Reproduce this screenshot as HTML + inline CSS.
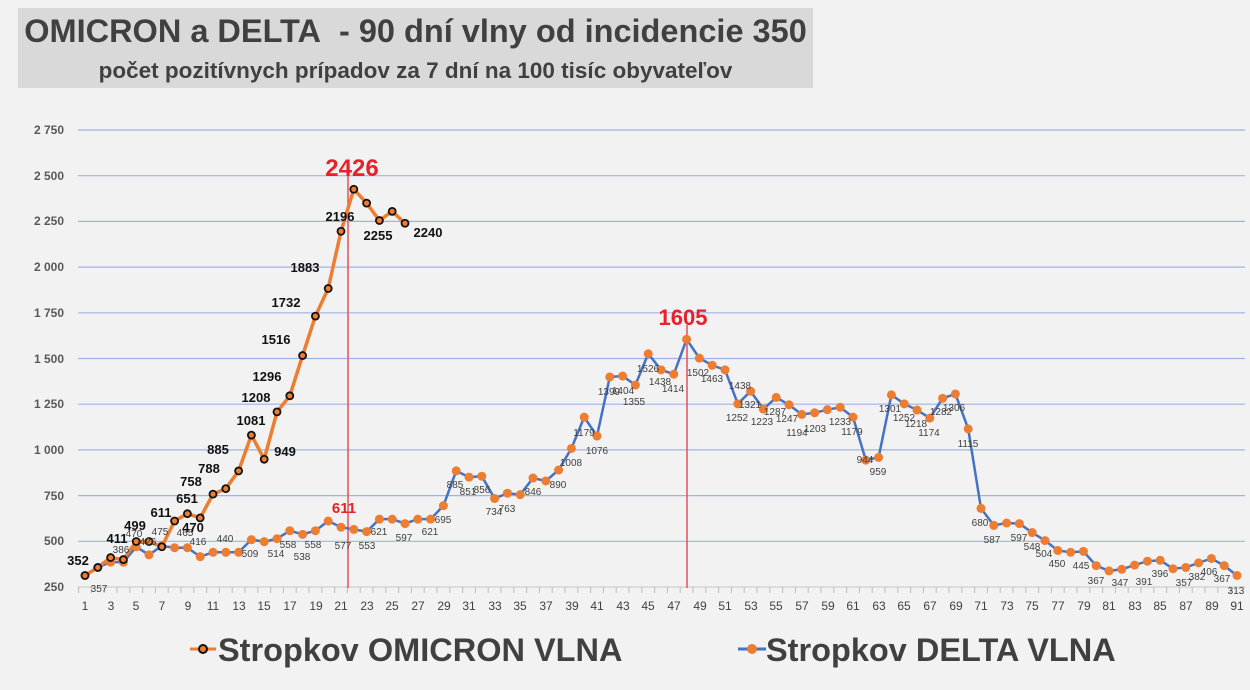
<!DOCTYPE html>
<html><head><meta charset="utf-8"><style>
body{margin:0;width:1250px;height:690px;background:#f2f2f2;overflow:hidden;font-family:"Liberation Sans",sans-serif}
#t{position:absolute;left:18px;top:8px;width:795px;height:80px;background:#d9d9d9}
#t1{position:absolute;left:0;width:795px;top:5px;text-align:center;font-weight:bold;font-size:32.5px;color:#404040;white-space:nowrap}
#t2{position:absolute;left:0;width:795px;top:50px;text-align:center;font-weight:bold;font-size:22.5px;color:#404040;white-space:nowrap}
svg{position:absolute;left:0;top:0}
</style></head><body>
<div id="t"><div id="t1">OMICRON a DELTA&nbsp; - 90 dní vlny od incidencie 350</div><div id="t2">počet pozitívnych prípadov za 7 dní na 100 tisíc obyvateľov</div></div>
<svg width="1250" height="690" id="s" font-family="Liberation Sans, sans-serif">
<g id="grid"></g>
<g font-size="12" fill="#595959" text-anchor="end" font-weight="bold">
<text x="64" y="134">2 750</text><text x="64" y="180">2 500</text><text x="64" y="225">2 250</text><text x="64" y="271">2 000</text><text x="64" y="317">1 750</text><text x="64" y="363">1 500</text><text x="64" y="408">1 250</text><text x="64" y="454">1 000</text><text x="64" y="500">750</text><text x="64" y="545">500</text><text x="64" y="591">250</text>
</g>
<line x1="348" y1="160" x2="348" y2="588" stroke="#e8505b" stroke-width="1.5"/>
<line x1="687" y1="325" x2="687" y2="588" stroke="#e8505b" stroke-width="1.5"/>
<g id="series"></g>
<g font-size="10" fill="#404040" text-anchor="middle">
<text x="99" y="592">357</text><text x="121" y="553">386</text><text x="134" y="537">470</text><text x="148" y="545">426</text><text x="160" y="535">475</text><text x="185" y="536">465</text><text x="198" y="545">416</text><text x="225" y="542">440</text><text x="250" y="557">509</text><text x="276" y="557">514</text><text x="288" y="548">558</text><text x="302" y="560">538</text><text x="313" y="548">558</text><text x="343" y="549">577</text><text x="367" y="549">553</text><text x="379" y="535">621</text><text x="404" y="541">597</text><text x="430" y="535">621</text><text x="443" y="523">695</text><text x="455" y="488">885</text><text x="468" y="495">851</text><text x="482" y="493">856</text><text x="494" y="515">734</text><text x="507" y="512">763</text><text x="533" y="495">846</text><text x="558" y="488">890</text><text x="571" y="466">1008</text><text x="584" y="436">1179</text><text x="597" y="454">1076</text><text x="609" y="395">1399</text><text x="623" y="394">1404</text><text x="634" y="405">1355</text><text x="648" y="372">1526</text><text x="660" y="385">1438</text><text x="673" y="392">1414</text><text x="698" y="376">1502</text><text x="712" y="382">1463</text><text x="740" y="389">1438</text><text x="737" y="421">1252</text><text x="750" y="408">1321</text><text x="762" y="425">1223</text><text x="775" y="415">1287</text><text x="787" y="422">1247</text><text x="797" y="436">1194</text><text x="815" y="432">1203</text><text x="840" y="425">1233</text><text x="852" y="435">1179</text><text x="865" y="463">944</text><text x="878" y="475">959</text><text x="890" y="412">1301</text><text x="904" y="421">1252</text><text x="916" y="427">1218</text><text x="929" y="436">1174</text><text x="941" y="415">1282</text><text x="954" y="411">1306</text><text x="968" y="447">1115</text><text x="980" y="526">680</text><text x="992" y="543">587</text><text x="1019" y="541">597</text><text x="1032" y="550">548</text><text x="1044" y="557">504</text><text x="1057" y="567">450</text><text x="1081" y="569">445</text><text x="1096" y="584">367</text><text x="1120" y="586">347</text><text x="1144" y="585">391</text><text x="1160" y="577">396</text><text x="1184" y="586">357</text><text x="1197" y="580">382</text><text x="1209" y="575">406</text><text x="1222" y="582">367</text><text x="1236" y="594">313</text>
</g>
<g font-size="13" font-weight="bold" fill="#111" text-anchor="middle">
<text x="78" y="565">352</text><text x="117" y="543">411</text><text x="135" y="530">499</text><text x="161" y="517">611</text><text x="187" y="503">651</text><text x="193" y="532">470</text><text x="191" y="486">758</text><text x="209" y="473">788</text><text x="218" y="454">885</text><text x="251" y="425">1081</text><text x="285" y="456">949</text><text x="256" y="402">1208</text><text x="267" y="381">1296</text><text x="276" y="344">1516</text><text x="286" y="307">1732</text><text x="305" y="272">1883</text><text x="340" y="221">2196</text><text x="378" y="240">2255</text><text x="428" y="237">2240</text>
</g>
<g font-weight="bold" fill="#e8202a" text-anchor="middle">
<text x="352" y="176" font-size="24">2426</text><text x="683" y="325" font-size="22">1605</text><text x="344" y="513" font-size="15">611</text>
</g>
<g font-size="32.5" font-weight="bold" fill="#404040">
<line x1="190" y1="649" x2="216" y2="649" stroke="#ed7d31" stroke-width="3"/><circle cx="203" cy="649" r="4" fill="#ed7d31" stroke="#111" stroke-width="2"/>
<text x="218" y="661">Stropkov OMICRON VLNA</text>
<line x1="738" y1="649" x2="766" y2="649" stroke="#4472c4" stroke-width="3"/><circle cx="752" cy="649" r="5" fill="#ed7d31"/>
<text x="766" y="661">Stropkov DELTA VLNA</text>
</g>
<g font-size="12" fill="#404040" text-anchor="middle">
<text x="85" y="610">1</text><text x="111" y="610">3</text><text x="136" y="610">5</text><text x="162" y="610">7</text><text x="188" y="610">9</text><text x="213" y="610">11</text><text x="239" y="610">13</text><text x="264" y="610">15</text><text x="290" y="610">17</text><text x="316" y="610">19</text><text x="341" y="610">21</text><text x="367" y="610">23</text><text x="392" y="610">25</text><text x="418" y="610">27</text><text x="444" y="610">29</text><text x="469" y="610">31</text><text x="495" y="610">33</text><text x="520" y="610">35</text><text x="546" y="610">37</text><text x="572" y="610">39</text><text x="597" y="610">41</text><text x="623" y="610">43</text><text x="648" y="610">45</text><text x="674" y="610">47</text><text x="700" y="610">49</text><text x="725" y="610">51</text><text x="751" y="610">53</text><text x="776" y="610">55</text><text x="802" y="610">57</text><text x="828" y="610">59</text><text x="853" y="610">61</text><text x="879" y="610">63</text><text x="904" y="610">65</text><text x="930" y="610">67</text><text x="956" y="610">69</text><text x="981" y="610">71</text><text x="1007" y="610">73</text><text x="1032" y="610">75</text><text x="1058" y="610">77</text><text x="1084" y="610">79</text><text x="1109" y="610">81</text><text x="1135" y="610">83</text><text x="1160" y="610">85</text><text x="1186" y="610">87</text><text x="1212" y="610">89</text><text x="1237" y="610">91</text>
</g>
</svg>
<script>
var NS="http://www.w3.org/2000/svg";
function X(d){return 85+(d-1)*12.8}
function Y(v){return 587-(v-250)*0.1828}
function el(t,a,p){var e=document.createElementNS(NS,t);for(var k in a)e.setAttribute(k,a[k]);document.getElementById(p).appendChild(e);return e}
for(var v=250;v<=2750;v+=250){el("line",{x1:78,x2:1245,y1:Y(v),y2:Y(v),stroke:v==250?"#d0d0d0":"#9fb3e3","stroke-width":1.2},"grid")}
for(var d=1;d<=91;d++){el("line",{x1:X(d)-6.4,x2:X(d)-6.4,y1:587,y2:593,stroke:"#bbb"},"grid")}
var D=[313,357,386,386,470,426,475,465,465,416,440,440,440,509,498,514,558,538,558,611,577,565,553,621,621,597,621,621,695,885,851,856,734,763,755,846,830,890,1008,1179,1076,1399,1404,1355,1526,1438,1414,1605,1502,1463,1438,1252,1321,1223,1287,1247,1194,1203,1220,1233,1179,944,959,1301,1252,1218,1174,1282,1306,1115,680,587,600,597,548,504,450,440,445,367,338,347,370,391,396,350,357,382,406,367,313];
var O=[313,357,411,400,499,499,470,611,651,628,758,788,885,1081,949,1208,1296,1516,1732,1883,2196,2426,2350,2255,2305,2240];
var p=D.map(function(v,i){return X(i+1)+","+Y(v)}).join(" ");
el("polyline",{points:p,fill:"none",stroke:"#4472c4","stroke-width":2.5},"series");
D.forEach(function(v,i){el("circle",{cx:X(i+1),cy:Y(v),r:4.5,fill:"#ed7d31"},"series")});
p=O.map(function(v,i){return X(i+1)+","+Y(v)}).join(" ");
el("polyline",{points:p,fill:"none",stroke:"#ed7d31","stroke-width":3.5},"series");
O.forEach(function(v,i){el("circle",{cx:X(i+1),cy:Y(v),r:3.5,fill:"#ed7d31",stroke:"#111","stroke-width":1.8},"series")});
</script>
</body></html>
